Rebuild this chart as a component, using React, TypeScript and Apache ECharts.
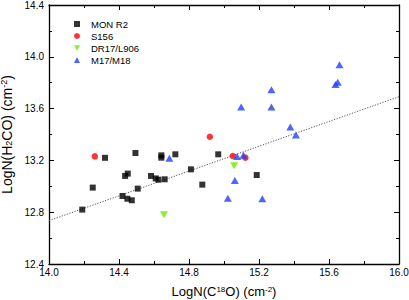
import React, { useEffect, useRef } from "react";
import * as echarts from "echarts";

const monX = [14.19, 14.25, 14.32, 14.42, 14.435, 14.45, 14.448, 14.473, 14.494, 14.507, 14.583, 14.61, 14.625, 14.642, 14.642, 14.661, 14.722, 14.811, 14.876, 14.967, 15.187];
const monY = [12.82, 12.99, 13.22, 12.925, 13.08, 13.098, 12.904, 12.892, 13.257, 12.982, 13.08, 13.061, 13.051, 13.221, 13.239, 13.054, 13.247, 13.131, 13.013, 13.247, 13.087];

const s156X = [14.262, 14.919, 15.05, 15.122];
const s156Y = [13.231, 13.383, 13.234, 13.221];

const drX = [14.657, 15.058];
const drY = [12.781, 13.159];

const m17X = [14.688, 15.022, 15.062, 15.075, 15.098, 15.111, 15.219, 15.271, 15.271, 15.379, 15.411, 15.637, 15.65, 15.66];
const m17Y = [13.216, 12.907, 13.044, 13.23, 13.612, 13.239, 12.904, 13.746, 13.612, 13.458, 13.396, 13.787, 13.803, 13.939];

const fitX = [14.0, 16.0];
const fitY = [12.735, 13.692];

const seriesNames = ["MON R2", "S156", "DR17/L906", "M17/M18"];
const colors = ["#000000", "#ff0000", "#66ee00", "#1f3fff"];

const zip = (xs: number[], ys: number[]) => xs.map((x, i) => [x, ys[i]]);

const FONT = "Liberation Sans, Arial, sans-serif";

export default function App() {
  const ref = useRef<HTMLDivElement>(null);
  useEffect(() => {
    if (!ref.current) return;
    const chart = echarts.init(ref.current, undefined, { renderer: "svg" });
    const axisCommon = {
      min: 0,
      max: 0,
      interval: 0.4,
      axisLine: { show: true, onZero: false, lineStyle: { color: "#000", width: 1.3 } },
      axisTick: { show: true, inside: true, length: 5, lineStyle: { color: "#000", width: 1 } },
      minorTick: { show: true, splitNumber: 2, length: 3, lineStyle: { color: "#000", width: 1 } },
      splitLine: { show: false },
      minorSplitLine: { show: false },
    };
    const richX = {
      n: { fontSize: 13, fontFamily: FONT, color: "#000" },
      sup: { fontSize: 8, fontFamily: FONT, color: "#000", verticalAlign: "top" },
    };
    const richY = {
      n: { fontSize: 14, fontFamily: FONT, color: "#000" },
      sup: { fontSize: 9, fontFamily: FONT, color: "#000", verticalAlign: "top" },
      sub: { fontSize: 9, fontFamily: FONT, color: "#000", verticalAlign: "bottom" },
    };
    const option: any = {
      animation: false,
      grid: { left: 49, right: 10, top: 5, bottom: 36, containLabel: false, outerBoundsMode: "none" },
      legend: {
        orient: "vertical",
        left: 69,
        top: 13,
        itemWidth: 6,
        itemHeight: 6,
        itemGap: 0,
        selectedMode: false,
        textStyle: { fontSize: 9.5, fontFamily: FONT, color: "#000", lineHeight: 12, padding: [0, 0, 0, 6] },
        data: [
          { name: seriesNames[0], icon: "rect" },
          { name: seriesNames[1], icon: "circle" },
          { name: seriesNames[2], icon: "path://M0,0 L10,0 L5,9 Z" },
          { name: seriesNames[3], icon: "triangle" },
        ],
      },
      xAxis: [
        {
          ...axisCommon,
          type: "value",
          position: "bottom",
          min: 14.0,
          max: 16.0,
          axisLabel: { show: true, formatter: (v: number) => v.toFixed(1), fontSize: 10, fontFamily: FONT, color: "#000", margin: 3 },
          name: "{n|LogN(C}{sup|18}{n|O) (cm}{sup|-2}{n|)}",
          nameLocation: "middle",
          nameGap: 21,
          nameTextStyle: { rich: richX },
        },
        {
          ...axisCommon,
          type: "value",
          position: "top",
          min: 14.0,
          max: 16.0,
          axisLabel: { show: false },
        },
      ],
      yAxis: [
        {
          ...axisCommon,
          type: "value",
          position: "left",
          min: 12.4,
          max: 14.4,
          axisLabel: { show: true, formatter: (v: number) => v.toFixed(1), fontSize: 10, fontFamily: FONT, color: "#000", margin: 5 },
          name: "{n|LogN(H}{sub|2}{n|CO) (cm}{sup|-2}{n|)}",
          nameLocation: "middle",
          nameGap: 33,
          nameRotate: 90,
          nameTextStyle: { rich: richY },
        },
        {
          ...axisCommon,
          type: "value",
          position: "right",
          min: 12.4,
          max: 14.4,
          axisLabel: { show: false },
        },
      ],
      series: [
        {
          name: "fit",
          type: "line",
          data: zip(fitX, fitY),
          showSymbol: false,
          symbol: "none",
          lineStyle: { color: "#555", width: 1, type: [1.2, 1.5] },
          silent: true,
          z: 1,
        },
        {
          name: seriesNames[0],
          type: "scatter",
          data: zip(monX, monY),
          symbol: "rect",
          symbolSize: 6,
          itemStyle: { color: colors[0] },
          z: 3,
        },
        {
          name: seriesNames[1],
          type: "scatter",
          data: zip(s156X, s156Y),
          symbol: "circle",
          symbolSize: 6.5,
          itemStyle: { color: colors[1] },
          z: 3,
        },
        {
          name: seriesNames[2],
          type: "scatter",
          data: zip(drX, drY),
          symbol: "triangle",
          symbolRotate: 180,
          symbolSize: [8, 7],
          itemStyle: { color: colors[2] },
          z: 3,
        },
        {
          name: seriesNames[3],
          type: "scatter",
          data: zip(m17X, m17Y),
          symbol: "triangle",
          symbolSize: [8, 7],
          itemStyle: { color: colors[3] },
          z: 3,
        },
      ],
    };
    chart.setOption(option);
    return () => chart.dispose();
  }, []);
  return (
    <div
      ref={ref}
      style={{ position: "fixed", left: 0, top: 0, width: 409, height: 300, background: "#fff" }}
    />
  );
}
